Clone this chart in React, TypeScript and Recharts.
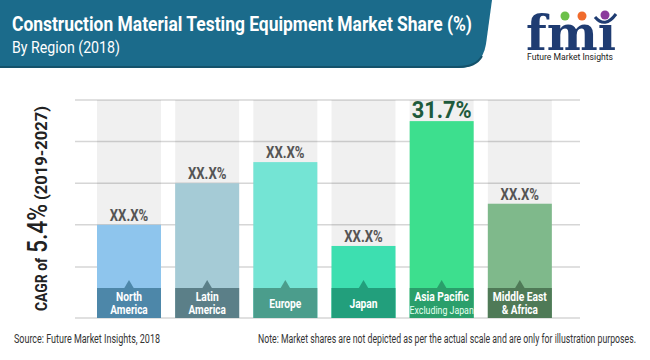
import React from 'react';
import { BarChart, Bar, XAxis, YAxis, CartesianGrid, LabelList } from 'recharts';

const regions = ['North America', 'Latin America', 'Europe', 'Japan', 'Asia Pacific', 'Middle East & Africa'];
const labelLine1 = ['North', 'Latin', 'Europe', 'Japan', 'Asia Pacific', 'Middle East'];
const labelLine2 = ['America', 'America', '', '', 'Excluding Japan', '& Africa'];
const shares = [15.0, 21.7, 25.1, 11.6, 31.7, 18.4];
const valueLabels = ['XX.X%', 'XX.X%', 'XX.X%', 'XX.X%', '31.7%', 'XX.X%'];
const gridTicks = [4.8, 8.2, 11.6, 15.0, 18.4, 21.7, 25.1, 28.4, 31.7, 35.1];
const yMax = 35.1;

const barColors = ['#8ec5ed', '#a5cbd6', '#74e4d4', '#3ddfb0', '#3ddf8e', '#7fb98b'];
const boxColors = ['#4d87a9', '#5b7f88', '#4b9d8c', '#229f7c', '#2a9f6b', '#4f7a57'];

const data = regions.map((r, i) => ({
  region: r,
  share: shares[i],
  label: valueLabels[i],
  line1: labelLine1[i],
  line2: labelLine2[i],
}));

const FONT = 'Roboto, "Noto Sans", sans-serif';

const BarShape = (props: any) => {
  const { x, y, width, height, index, payload } = props;
  const cx = x + width / 2;
  const bottom = y + height;
  const boxTop = bottom - 30;
  const two = payload.line2 !== '';
  const isSub = payload.line2 === 'Excluding Japan';
  return (
    <g>
      <rect x={x} y={y} width={width} height={height} fill={barColors[index]} />
      <rect x={x} y={boxTop} width={width} height={30} fill={boxColors[index]} />
      <polygon points={`${cx - 5},${boxTop + 0.5} ${cx + 5},${boxTop + 0.5} ${cx},${boxTop - 8}`} fill={boxColors[index]} />
      {two ? (
        <>
          <text transform={`translate(${cx},${boxTop + 13}) scale(0.82,1)`} textAnchor="middle" fill="#fff" fontFamily={FONT} fontWeight={700} fontSize={12.5}>
            {payload.line1}
          </text>
          <text transform={`translate(${cx},${boxTop + 26}) scale(0.8,1)`} textAnchor="middle" fill={isSub ? '#e6fff0' : '#fff'} fontFamily={FONT} fontWeight={isSub ? 400 : 700} fontSize={isSub ? 11 : 12.5}>
            {payload.line2}
          </text>
        </>
      ) : (
        <text transform={`translate(${cx},${boxTop + 19.5}) scale(0.82,1)`} textAnchor="middle" fill="#fff" fontFamily={FONT} fontWeight={700} fontSize={12.5}>
          {payload.line1}
        </text>
      )}
    </g>
  );
};

const ValueLabel = (props: any) => {
  const { x, y, width, value } = props;
  const cx = x + width / 2;
  const big = value !== 'XX.X%';
  return (
    <text
      transform={`translate(${cx},${y - (big ? 3 : 4)}) scale(${big ? 0.95 : 0.82},1)`}
      textAnchor="middle"
      fill={big ? '#1e5a3c' : '#555555'}
      fontFamily={FONT}
      fontWeight={700}
      fontSize={big ? 23 : 16}
    >
      {value}
    </text>
  );
};

export default function App() {
  return (
    <div style={{ position: 'absolute', left: 0, top: 0, width: 650, height: 360, background: '#fff', overflow: 'hidden' }}>
      <svg width={650} height={360} style={{ position: 'absolute', left: 0, top: 0 }}>
        <path d="M0,0 H492 L486,44 Q482,68 458,68 H0 Z" fill="#1b6b8b" />
        <path d="M0,67 H458 Q476,67 482,56" stroke="#14526b" strokeWidth={2} fill="none" />
        <text x={12} y={31} fill="#fff" fontFamily={FONT} fontWeight={700} fontSize={21} textLength={460} lengthAdjust="spacingAndGlyphs">
          Construction Material Testing Equipment Market Share (%)
        </text>
        <text x={12} y={53} fill="#fff" fontFamily={FONT} fontWeight={400} fontSize={16} textLength={108} lengthAdjust="spacingAndGlyphs">
          By Region (2018)
        </text>

        <text x={526} y={50} fill="#1f3c72" fontFamily='"DejaVu Serif", serif' fontWeight={700} fontSize={48} textLength={90} lengthAdjust="spacingAndGlyphs">
          fmı
        </text>
        <circle cx={565} cy={16} r={4.5} fill="#6cc04a" />
        <circle cx={582} cy={16} r={4.5} fill="#f06b2c" />
        <circle cx={605} cy={15} r={4.5} fill="#8b3a9c" />
        <path d="M595,17 Q605,29 616,14" stroke="#1f3c72" strokeWidth={3} fill="none" />
        <text x={527} y={60} fill="#222" fontFamily={FONT} fontSize={9.5} textLength={86} lengthAdjust="spacingAndGlyphs">
          Future Market Insights
        </text>

        <g transform="translate(47,311) rotate(-90)">
          <text x={0} y={0} fill="#222" fontFamily={FONT} fontWeight={700} fontSize={17} textLength={53} lengthAdjust="spacingAndGlyphs">
            CAGR of
          </text>
          <text x={58} y={0} fill="#222" fontFamily={FONT} fontWeight={500} fontSize={28} textLength={49} lengthAdjust="spacingAndGlyphs">
            5.4%
          </text>
          <text x={111} y={0} fill="#222" fontFamily={FONT} fontWeight={700} fontSize={17} textLength={94} lengthAdjust="spacingAndGlyphs">
            (2019-2027)
          </text>
        </g>

        <text x={14} y={343} fill="#333" fontFamily={FONT} fontSize={12} textLength={146} lengthAdjust="spacingAndGlyphs">
          Source: Future Market Insights, 2018
        </text>
        <text x={258} y={343} fill="#333" fontFamily={FONT} fontSize={12} textLength={378} lengthAdjust="spacingAndGlyphs">
          Note: Market shares are not depicted as per the actual scale and are only for illustration purposes.
        </text>
      </svg>
      <div style={{ position: 'absolute', left: 0, top: 0 }}>
        <BarChart width={650} height={360} data={data} margin={{ top: 100, right: 70, bottom: 42, left: 75 }}>
          <CartesianGrid vertical={false} stroke="#d6d6d6" strokeWidth={1.5} />
          <XAxis dataKey="region" hide padding={{ left: 15, right: 21 }} />
          <YAxis hide domain={[0, yMax]} ticks={gridTicks} />
          <Bar
            dataKey="share"
            barSize={64}
            isAnimationActive={false}
            background={{ fill: '#000', fillOpacity: 0.06 }}
            shape={<BarShape />}
          >
            <LabelList dataKey="label" content={<ValueLabel />} />
          </Bar>
        </BarChart>
      </div>
    </div>
  );
}
